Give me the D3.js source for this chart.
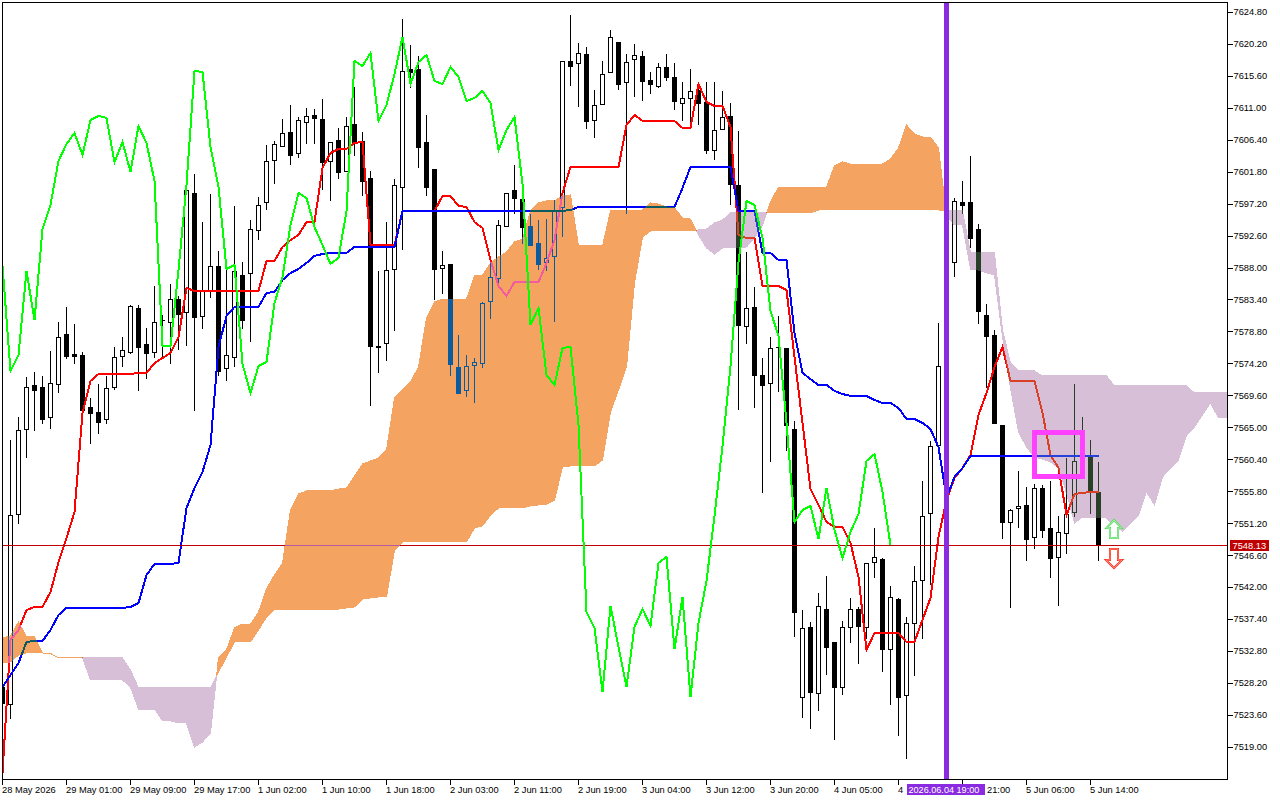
<!DOCTYPE html>
<html><head><meta charset="utf-8">
<script src="https://cdn.jsdelivr.net/npm/d3@7/dist/d3.min.js"></script>
<style>
html,body{margin:0;padding:0;background:#fff;overflow:hidden}
svg{display:block;isolation:isolate;background:#fff}
text{font-family:"Liberation Sans",Arial,sans-serif;font-size:9.3px;fill:#000}
</style></head><body><svg id="c" width="1280" height="800"></svg>
<script>
const opens=[7527.67,7525.22,7552.58,7564.82,7571.16,7570.87,7566.55,7571.30,7578.50,7575.62,
7575.48,7567.99,7567.27,7566.26,7570.87,7575.34,7575.91,7582.25,7577.06,7575.91,
7580.52,7580.23,7583.54,7581.67,7598.81,7581.10,7584.70,7588.30,7573.61,7575.19,
7587.00,7587.29,7593.48,7597.51,7603.56,7605.58,7607.59,7604.57,7609.03,7610.04,
7609.46,7603.42,7606.44,7601.98,7608.74,7606.30,7600.97,7576.78,7577.21,7587.86,
7599.67,7616.66,7616.66,7606.15,7602.26,7588.01,7588.58,7573.75,7570.44,7574.04,
7574.33,7583.26,7586.57,7594.06,7599.24,7597.94,7594.06,7591.61,7588.87,7589.74,
7596.79,7617.82,7617.53,7618.82,7609.32,7611.62,7616.23,7620.55,7614.79,7618.10,
7618.54,7615.08,7614.22,7616.95,7615.51,7611.77,7612.49,7613.64,7611.91,7605.00,
7608.02,7609.90,7599.96,7579.66,7582.39,7572.60,7571.45,7576.63,7576.49,7564.82,
7526.23,7536.31,7526.81,7538.90,7534.15,7527.67,7536.31,7538.90,7536.31,7545.67,
7546.10,7533.14,7540.34,7526.52,7536.89,7543.08,7552.73,7562.52,7573.90,7588.87,
7597.51,7597.51,7593.62,7581.24,7578.36,7565.40,7551.43,7553.45,7553.88,7549.27,
7556.33,7550.57,7546.39,7549.85,7552.87,7560.22,7560.79,7555.75];
const highs=[7527.67,7563.38,7566.70,7572.46,7573.18,7572.60,7576.20,7580.38,7582.54,7580.09,
7576.06,7569.43,7571.45,7572.60,7576.78,7578.22,7582.82,7582.82,7579.51,7585.56,
7581.38,7585.85,7584.12,7599.24,7601.69,7594.78,7598.81,7590.60,7587.86,7597.08,
7589.02,7595.06,7598.38,7605.86,7606.44,7609.61,7611.62,7609.90,7611.19,7611.05,
7612.49,7606.15,7608.31,7609.90,7614.22,7607.74,7602.12,7587.72,7594.78,7600.97,
7624.01,7620.26,7618.68,7610.18,7602.26,7590.60,7588.58,7578.50,7575.62,7575.19,
7583.26,7589.16,7595.06,7598.95,7602.98,7598.09,7595.93,7595.06,7595.21,7597.94,
7617.96,7624.58,7620.55,7619.98,7613.78,7617.96,7622.42,7620.55,7618.97,7620.41,
7619.40,7616.38,7617.67,7618.97,7617.67,7614.94,7616.81,7614.50,7614.94,7614.94,
7613.64,7611.91,7607.88,7590.46,7585.42,7575.19,7578.22,7581.24,7576.49,7566.12,
7538.90,7537.18,7541.35,7543.80,7534.15,7537.32,7540.63,7539.34,7545.67,7550.71,
7546.39,7542.36,7540.63,7537.90,7545.24,7557.48,7563.24,7580.23,7589.50,7598.23,
7600.68,7604.28,7594.49,7582.97,7579.22,7565.40,7553.45,7558.92,7556.62,7557.05,
7556.90,7557.48,7552.44,7560.79,7571.45,7566.70,7563.38,7560.22];
const lows=[7525.37,7523.21,7551.29,7560.79,7564.68,7565.69,7564.97,7570.15,7575.05,7574.33,
7567.42,7562.81,7564.25,7565.69,7570.58,7573.90,7575.77,7570.44,7572.17,7575.19,
7575.05,7574.33,7576.34,7576.92,7567.56,7579.37,7583.83,7572.60,7571.88,7573.90,
7579.37,7577.50,7592.18,7596.50,7600.25,7605.58,7602.98,7603.99,7606.01,7606.01,
7599.38,7597.80,7600.97,7601.98,7604.28,7598.52,7568.28,7573.03,7574.76,7579.08,
7590.74,7614.07,7602.55,7598.52,7583.54,7584.41,7572.60,7570.01,7569.58,7568.71,
7573.75,7580.81,7585.85,7594.06,7595.93,7591.61,7591.32,7587.86,7587.72,7580.38,
7592.62,7614.36,7611.34,7608.17,7606.87,7611.62,7616.23,7613.78,7595.93,7612.78,
7612.20,7613.21,7614.07,7615.08,7610.90,7609.32,7609.03,7608.74,7604.57,7603.70,
7608.02,7597.22,7567.70,7577.21,7567.99,7555.75,7560.22,7570.30,7561.80,7535.02,
7523.35,7521.77,7524.36,7529.54,7520.18,7526.66,7534.15,7531.13,7534.73,7543.51,
7529.98,7525.22,7520.76,7517.45,7529.40,7534.73,7542.50,7562.52,7573.50,7586.86,
7595.93,7591.03,7580.09,7570.87,7565.69,7549.13,7539.19,7550.71,7545.96,7547.69,
7549.27,7543.51,7539.48,7546.97,7552.30,7557.77,7552.73,7545.96];
const closes=[7525.37,7552.44,7564.68,7570.87,7570.44,7566.26,7571.45,7578.07,7575.34,7575.34,
7567.56,7567.13,7565.83,7570.73,7575.19,7576.20,7582.54,7576.63,7575.77,7580.23,
7580.45,7583.54,7581.38,7599.24,7580.95,7584.70,7588.30,7573.18,7575.48,7587.58,
7580.52,7593.62,7597.08,7603.42,7605.86,7607.45,7604.28,7609.32,7609.90,7609.61,
7603.27,7606.15,7601.83,7608.46,7606.01,7600.54,7576.78,7576.70,7587.72,7599.96,
7616.38,7616.23,7605.43,7599.67,7587.86,7588.44,7574.18,7570.01,7573.90,7574.47,
7582.97,7586.71,7594.20,7598.81,7598.09,7593.91,7591.32,7588.58,7589.45,7596.22,
7617.82,7617.10,7618.97,7609.18,7611.48,7615.94,7621.27,7614.50,7617.67,7618.68,
7614.94,7614.50,7616.95,7615.51,7612.06,7612.49,7613.50,7611.77,7605.00,7607.88,
7609.75,7600.10,7579.80,7582.25,7572.60,7571.16,7576.49,7576.63,7565.40,7538.47,
7536.17,7526.95,7539.34,7533.43,7527.67,7536.31,7538.90,7536.46,7545.53,7546.39,
7533.14,7540.63,7526.23,7536.89,7542.94,7552.30,7562.38,7573.90,7588.87,7597.66,
7597.08,7592.33,7581.82,7578.22,7565.69,7551.43,7553.16,7553.74,7548.98,7556.33,
7550.28,7546.25,7549.99,7552.58,7560.22,7561.22,7555.75,7548.13];
const tenkan=[7515.29,7534.44,7535.88,7538.76,7539.19,7539.19,7541.35,7545.67,7549.13,7552.87,
7567.13,7571.74,7572.74,7572.74,7572.74,7572.74,7572.74,7572.89,7572.89,7574.33,
7575.05,7575.77,7578.07,7585.13,7584.70,7584.70,7584.70,7584.70,7584.70,7584.70,
7584.70,7584.70,7584.70,7589.02,7589.02,7591.03,7592.04,7592.76,7594.63,7594.63,
7602.41,7604.57,7605.14,7605.14,7606.01,7606.15,7591.32,7591.32,7591.32,7591.32,
7596.22,7596.22,7596.22,7596.22,7596.22,7598.38,7598.38,7596.94,7596.79,7594.63,
7593.77,7589.16,7585.42,7583.98,7585.99,7585.99,7585.99,7585.99,7588.73,7592.04,
7598.81,7602.55,7602.55,7602.55,7602.55,7602.55,7602.55,7602.55,7608.60,7610.04,
7609.18,7609.18,7609.18,7609.18,7609.18,7608.17,7608.17,7614.50,7611.91,7611.34,
7611.34,7608.31,7592.76,7592.33,7592.33,7585.42,7585.42,7585.42,7584.84,7575.19,
7565.69,7556.18,7553.88,7551.43,7550.71,7550.71,7548.41,7543.51,7533.00,7535.45,
7535.45,7535.45,7535.45,7534.15,7534.15,7537.32,7540.49,7549.27,7554.60,7557.77,
7559.21,7561.08,7566.84,7570.01,7573.75,7576.63,7571.74,7571.74,7571.74,7571.74,
7567.13,7561.08,7559.21,7552.44,7555.46,7555.61,7555.75,7555.75];
const kijun=[7527.67,7529.40,7531.13,7534.15,7534.30,7534.30,7535.88,7538.04,7539.05,7539.05,
7539.05,7539.05,7539.05,7539.05,7539.05,7539.05,7539.19,7539.77,7543.80,7545.38,
7545.38,7545.38,7545.53,7553.45,7556.33,7558.63,7562.52,7576.63,7581.10,7582.39,
7582.39,7582.39,7582.39,7584.41,7584.55,7586.28,7587.29,7587.86,7588.73,7589.74,
7590.02,7590.17,7590.17,7590.17,7591.03,7591.03,7591.03,7591.03,7591.03,7591.03,
7596.22,7596.22,7596.22,7596.22,7596.22,7596.22,7596.22,7596.22,7596.22,7596.22,
7596.22,7596.22,7596.22,7596.22,7596.22,7596.22,7596.22,7596.22,7596.22,7596.22,
7596.22,7596.36,7596.79,7596.79,7596.79,7596.79,7596.79,7596.79,7596.79,7596.79,
7596.79,7596.79,7596.79,7596.79,7596.79,7599.53,7602.55,7602.55,7602.55,7602.55,
7602.55,7602.55,7596.22,7596.22,7596.22,7590.17,7590.17,7589.16,7589.16,7578.65,
7572.89,7572.02,7571.16,7571.16,7570.30,7569.86,7569.58,7569.58,7569.58,7569.00,
7568.57,7568.57,7567.85,7566.26,7566.26,7565.69,7564.82,7562.23,7554.89,7557.91,
7559.21,7560.94,7560.94,7560.94,7560.94,7560.94,7560.94,7560.94,7560.94,7560.94,
7560.94,7560.94,7560.94,7560.94,7560.94,7560.94,7560.94,7560.94];
const chikou=closes.slice(26);
const spanA=[7534.73,7535.02,7537.03,7534.87,7534.87,7532.57,7532.50,7531.85,7531.85,7531.85,
7531.85,7528.68,7528.68,7528.68,7528.68,7528.68,7527.67,7524.50,7524.50,7524.50,
7522.78,7522.78,7522.49,7522.49,7519.03,7519.75,7521.05,7531.85,7533.00,7536.17,
7536.74,7536.74,7538.47,7541.78,7543.80,7545.53,7553.16,7555.46,7555.90,7555.90,
7555.90,7555.90,7556.18,7556.33,7558.06,7559.78,7560.22,7560.65,7561.80,7569.29,
7570.44,7571.59,7573.75,7580.81,7583.11,7583.54,7583.54,7583.54,7583.54,7586.86,
7587.00,7588.73,7589.59,7590.31,7591.75,7592.18,7596.22,7597.37,7597.66,7597.66,
7598.38,7598.52,7591.18,7591.18,7591.18,7591.18,7596.22,7596.22,7596.22,7596.22,
7596.36,7597.37,7597.22,7596.79,7596.65,7595.21,7595.06,7592.76,7590.89,7590.02,
7590.89,7590.89,7590.89,7591.03,7592.33,7594.20,7597.51,7599.67,7599.67,7599.67,
7599.67,7599.67,7599.67,7599.67,7602.70,7603.27,7602.98,7602.98,7602.98,7602.98,
7602.98,7603.70,7605.29,7608.60,7607.30,7606.87,7606.87,7605.29,7595.50,7594.20,
7594.20,7587.86,7587.72,7587.29,7587.00,7578.07,7570.73,7564.39,7562.23,7560.79,
7560.50,7560.07,7559.21,7555.61,7551.29,7552.15,7552.01,7552.01,7552.01,7550.86,
7550.14,7551.29,7552.44,7555.75,7553.88,7557.91,7559.21,7560.36,7563.96,7565.11,
7566.84,7568.57,7566.41,7566.41];
const spanB=[7531.13,7531.27,7532.28,7532.57,7532.57,7532.57,7532.50,7531.85,7531.85,7531.85,
7531.85,7531.85,7531.85,7531.85,7531.85,7531.85,7530.12,7527.53,7527.53,7527.53,
7527.53,7527.53,7527.53,7527.53,7527.53,7527.53,7527.53,7529.83,7531.99,7534.15,
7534.15,7534.15,7535.88,7537.75,7538.90,7538.90,7538.90,7538.90,7538.90,7538.90,
7538.90,7538.90,7538.90,7539.05,7539.19,7540.34,7540.49,7540.63,7540.63,7547.40,
7548.55,7548.55,7548.55,7548.55,7548.55,7548.55,7548.55,7548.55,7548.55,7550.57,
7550.86,7552.44,7553.45,7553.45,7553.45,7553.45,7553.74,7553.88,7554.02,7554.60,
7559.35,7559.50,7559.50,7559.50,7559.50,7560.36,7567.27,7570.44,7573.75,7585.85,
7592.47,7593.34,7593.34,7593.34,7593.34,7593.34,7593.34,7593.48,7593.62,7594.49,
7594.92,7595.93,7595.93,7595.93,7595.93,7595.93,7595.93,7595.93,7595.93,7595.93,
7595.93,7595.93,7596.36,7596.36,7596.36,7596.36,7596.36,7596.36,7596.36,7596.36,
7596.36,7596.36,7596.36,7596.36,7596.36,7596.36,7596.36,7596.36,7596.22,7596.22,
7596.22,7590.17,7590.17,7590.17,7590.17,7579.08,7574.33,7573.18,7573.18,7573.18,
7572.46,7572.46,7572.46,7572.46,7572.46,7572.46,7572.46,7572.46,7572.46,7571.02,
7571.02,7571.02,7571.02,7571.02,7571.02,7571.02,7571.02,7571.02,7571.02,7570.01,
7570.01,7570.01,7570.01,7570.01];
const priceTicks=[7624.80,7620.20,7615.60,7611.00,7606.40,7601.80,7597.20,7592.60,7588.00,7583.40,7578.80,7574.20,7569.60,7565.00,7560.40,7555.80,7551.20,7546.60,7542.00,7537.40,7532.80,7528.20,7523.60,7519.00];
const timeTickBars=[0,8,16,24,32,40,48,56,64,72,80,88,96,104,112,120,128,136];
const timeTickLabels=["28 May 2026","29 May 01:00","29 May 09:00","29 May 17:00","1 Jun 02:00","1 Jun 10:00","1 Jun 18:00","2 Jun 03:00","2 Jun 11:00","2 Jun 19:00","3 Jun 04:00","3 Jun 12:00","3 Jun 20:00","4 Jun 05:00","4","21:00","5 Jun 06:00","5 Jun 14:00"];
const lastPrice=7548.13;
const markerBar=118;
const markerLabel="2026.06.04 19:00";
const boxBars=[129,135], boxPrices=[7564.25,7557.91];
const arrowBar=139, upArrowTip=7551.72, downArrowTip=7544.80;

const svg=d3.select("#c");
const x=d3.scaleLinear().domain([0,137]).range([2.5,1098.5]);
const y=d3.scaleLinear().domain([7624.8,7519]).range([12.5,747.2]);
const L=2.5,R=1227.5,T=2.5,B=779.5;
svg.append("defs").append("clipPath").attr("id","plot").append("rect").attr("x",L).attr("y",T).attr("width",R-L).attr("height",B-T);
const plot=svg.append("g").attr("clip-path","url(#plot)");
plot.append("rect").attr("x",0).attr("y",0).attr("width",1280).attr("height",800).attr("fill","#fff");
const snap=v=>Math.round(v)+0.5;

// candles
const bars=opens.map((o,i)=>({i,o,h:highs[i],l:lows[i],c:closes[i]}));
const cg=plot.append("g").attr("shape-rendering","crispEdges");
cg.selectAll("line").data(bars).join("line")
 .attr("x1",d=>x(d.i)).attr("x2",d=>x(d.i))
 .attr("y1",d=>snap(y(d.h))).attr("y2",d=>snap(y(d.l)))
 .attr("stroke","#000");
cg.selectAll("rect").data(bars).join("rect")
 .attr("x",d=>x(d.i)-2).attr("width",4)
 .attr("y",d=>snap(y(Math.max(d.o,d.c))))
 .attr("height",d=>Math.max(0.01,snap(y(Math.min(d.o,d.c)))-snap(y(Math.max(d.o,d.c)))))
 .attr("fill",d=>d.c>=d.o?"#fff":"#000").attr("stroke","#000");

// lines drawn below the cloud
const line=d3.line().x((d,i)=>x(i)).y(d=>y(d));
plot.append("path").attr("d",line(tenkan)).attr("fill","none").attr("stroke","#ff0000").attr("stroke-width",2).attr("shape-rendering","crispEdges");
plot.append("path").attr("d",line(kijun)).attr("fill","none").attr("stroke","#0000ff").attr("stroke-width",2).attr("shape-rendering","crispEdges");

// last price line
const lastY=snap(y(lastPrice));
plot.append("line").attr("x1",L).attr("x2",R).attr("y1",lastY).attr("y2",lastY).attr("stroke","#c00000").attr("shape-rendering","crispEdges");

// cloud, inverted blend so candles and lines show through like the terminal does
const runs={up:[],down:[]};
let cur=null;
function push(kind,p0,p1){
  if(!cur||cur.kind!==kind){cur={kind,pts:[p0]};runs[kind].push(cur.pts);}
  cur.pts.push(p1);
}
for(let i=0;i<spanA.length-1;i++){
  const d0=spanA[i]-spanB[i], d1=spanA[i+1]-spanB[i+1];
  const p0={i,a:spanA[i],b:spanB[i]}, p1={i:i+1,a:spanA[i+1],b:spanB[i+1]};
  if(d0*d1<0){
    const t=d0/(d0-d1), m=spanA[i]+(spanA[i+1]-spanA[i])*t;
    const pm={i:i+t,a:m,b:m};
    push(d0>0?"up":"down",p0,pm);
    push(d1>0?"up":"down",pm,p1);
  } else {
    push((d0+d1)>=0?"up":"down",p0,p1);
  }
}
const area=d3.area().x(d=>x(d.i)).y0(d=>y(d.a)).y1(d=>y(d.b));
[["up","#0b5b9f"],["down","#274027"]].forEach(([k,col])=>{
  plot.append("path").attr("d",runs[k].map(r=>area(r)).join(""))
   .attr("fill",col).attr("stroke",col).attr("stroke-width",1)
   .attr("shape-rendering","crispEdges").style("mix-blend-mode","difference");
});

// lagging line stays on top of the cloud
plot.append("path").attr("d",line(chikou)).attr("fill","none").attr("stroke","#00ff00").attr("stroke-width",2).attr("shape-rendering","crispEdges");

// rectangle
plot.append("rect").attr("x",x(boxBars[0])).attr("y",y(boxPrices[0]))
 .attr("width",x(boxBars[1])-x(boxBars[0])).attr("height",y(boxPrices[1])-y(boxPrices[0]))
 .attr("fill","none").attr("stroke","#ff40ff").attr("stroke-width",5).attr("shape-rendering","crispEdges");

// arrows
const ax=x(arrowBar)-0.5;
const upT=y(upArrowTip), dnT=y(downArrowTip);
const upD=`M${ax},${upT}L${ax+7.5},${upT+8}H${ax+4}V${upT+18}H${ax-4}V${upT+8}H${ax-7.5}Z`;
const dnD=`M${ax},${dnT}L${ax+8},${dnT-8}H${ax+4}V${dnT-19}H${ax-4}V${dnT-8}H${ax-8}Z`;
[[upD,"#55dd55","#c8f4e0"],[dnD,"#ff2a2a","#ffb080"]].forEach(([d,outer,inner])=>{
  plot.append("path").attr("d",d).attr("fill","#fff").attr("stroke",outer).attr("stroke-width",2);
  plot.append("path").attr("d",d).attr("fill","none").attr("stroke",inner).attr("stroke-width",0.7);
});

// vertical marker
plot.append("line").attr("x1",x(markerBar)).attr("x2",x(markerBar)).attr("y1",T).attr("y2",B)
 .attr("stroke","#8a2be2").attr("stroke-width",5).attr("shape-rendering","crispEdges");

// frame
svg.append("rect").attr("x",L).attr("y",T).attr("width",R-L).attr("height",B-T).attr("fill","none").attr("stroke","#000").attr("shape-rendering","crispEdges");

// axes
const ya=svg.append("g").attr("transform",`translate(${R},0)`)
 .call(d3.axisRight(y).tickValues(priceTicks).tickSize(5).tickPadding(1).tickFormat(d=>d.toFixed(2)).offset(0));
ya.select(".domain").remove();
ya.selectAll("line").attr("stroke","#000").attr("shape-rendering","crispEdges");
ya.selectAll("text").attr("fill","#000").style("font-size","9.3px").style("font-family",'"Liberation Sans",Arial,sans-serif');

const xa=svg.append("g").attr("transform",`translate(0,${B})`)
 .call(d3.axisBottom(x).tickValues(timeTickBars).tickSize(5).tickFormat((d,i)=>timeTickLabels[i]).offset(0));
xa.select(".domain").remove();
xa.selectAll("line").attr("stroke","#000").attr("shape-rendering","crispEdges");
const labelShift=d=>d===120?24.5:-0.5;
xa.selectAll("text").attr("text-anchor","start").attr("x",labelShift).attr("y",13).attr("dy",0).attr("fill","#000")
 .style("font-size","9.3px").style("font-family",'"Liberation Sans",Arial,sans-serif');

// last price tag
const tag=svg.append("g");
tag.append("rect").attr("x",1230).attr("y",lastY-5.5).attr("width",39).attr("height",11).attr("fill","#c00000");
tag.append("text").attr("x",1232.5).attr("y",lastY+3.5).style("fill","#fff").text(lastPrice.toFixed(2));

// marker date tag
const mt=svg.append("g");
mt.append("rect").attr("x",907).attr("y",784).attr("width",78).attr("height",11).attr("fill","#8a2be2");
mt.append("text").attr("x",908.5).attr("y",793).style("fill","#fff").style("font-size","9.1px").text(markerLabel);
</script></body></html>
